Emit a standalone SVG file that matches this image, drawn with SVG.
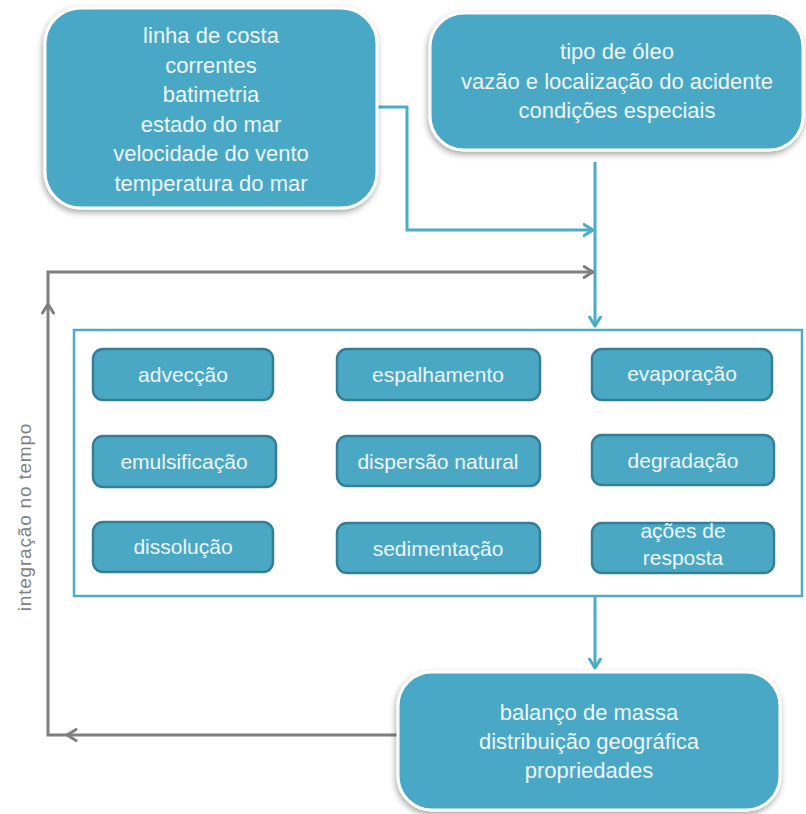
<svg xmlns="http://www.w3.org/2000/svg" width="806" height="814" viewBox="0 0 806 814">
<defs>
<filter id="sh" x="-10%" y="-10%" width="120%" height="125%">
<feDropShadow dx="-1" dy="3" stdDeviation="3" flood-color="#000" flood-opacity="0.35"/>
</filter>
<marker id="ab" viewBox="0 0 12 14" refX="10.5" refY="7" markerWidth="12" markerHeight="14" orient="auto" markerUnits="userSpaceOnUse">
<path d="M1.5,1.5 L10.5,7 L1.5,12.5" fill="none" stroke="#4bacc6" stroke-width="3" stroke-linecap="round" stroke-linejoin="round"/>
</marker>
<marker id="ag" viewBox="0 0 12 14" refX="10.5" refY="7" markerWidth="12" markerHeight="14" orient="auto" markerUnits="userSpaceOnUse">
<path d="M1.5,1.5 L10.5,7 L1.5,12.5" fill="none" stroke="#7f7f7f" stroke-width="3" stroke-linecap="round" stroke-linejoin="round"/>
</marker>
</defs>
<style>
.big{fill:#4aa8c5;stroke:#ffffff;stroke-width:3;filter:url(#sh)}
.sm{fill:#4aa8c5;stroke:#357f96;stroke-width:2.5}
.tb{font-family:"Liberation Sans",Arial,sans-serif;font-size:22px;fill:#eef7fa;text-anchor:middle}
.ts{font-family:"Liberation Sans",Arial,sans-serif;font-size:21px;fill:#eef7fa;text-anchor:middle}
.cb{fill:none;stroke:#4bacc6;stroke-width:3}
.cg{fill:none;stroke:#7f7f7f;stroke-width:3}
</style>
<rect width="806" height="814" fill="#ffffff"/>

<g id="container">
<rect x="74" y="330" width="728" height="266" fill="#ffffff" stroke="#4bacc6" stroke-width="2.5"/>
</g>

<g id="connectors">
<path class="cb" d="M378,107 H407 V230 H593" marker-end="url(#ab)"/>
<path class="cb" d="M595,162 V326" marker-end="url(#ab)"/>
<path class="cg" d="M398,735 H67" marker-end="url(#ag)"/>
<path class="cg" d="M67,735 H48 V304" marker-end="url(#ag)"/>
<path class="cg" d="M48,304 V272 H593" marker-end="url(#ag)"/>
<path class="cb" d="M595,597 V668" marker-end="url(#ab)"/>
</g>

<g id="label-integracao">
<text transform="translate(31,517) rotate(-90)" font-family="'Liberation Sans',Arial,sans-serif" font-size="19" fill="#7f7f7f" text-anchor="middle" letter-spacing="0.8">integração no tempo</text>
</g>

<g id="input-ambiente">
<rect class="big" x="45" y="8" width="332" height="200" rx="36"/>
<text class="tb" x="211" y="43">linha de costa</text>
<text class="tb" x="211" y="72.5">correntes</text>
<text class="tb" x="211" y="102">batimetria</text>
<text class="tb" x="211" y="131.5">estado do mar</text>
<text class="tb" x="211" y="161">velocidade do vento</text>
<text class="tb" x="211" y="190.5">temperatura do mar</text>
</g>

<g id="input-oleo">
<rect class="big" x="430" y="13" width="373" height="137" rx="34"/>
<text class="tb" x="617" y="59">tipo de óleo</text>
<text class="tb" x="617" y="89">vazão e localização do acidente</text>
<text class="tb" x="617" y="118">condições especiais</text>
</g>

<g id="advecção">
<rect class="sm" x="93" y="349" width="180" height="51" rx="10"/>
<text class="ts" x="183" y="382">advecção</text>
</g>
<g id="espalhamento">
<rect class="sm" x="337" y="349" width="203" height="51" rx="10"/>
<text class="ts" x="438" y="382">espalhamento</text>
</g>
<g id="evaporacao">
<rect class="sm" x="592" y="349" width="180" height="51" rx="10"/>
<text class="ts" x="682" y="381">evaporação</text>
</g>
<g id="emulsificacao">
<rect class="sm" x="93" y="436" width="183" height="51" rx="10"/>
<text class="ts" x="184" y="469">emulsificação</text>
</g>
<g id="dispersao">
<rect class="sm" x="337" y="436" width="203" height="50" rx="10"/>
<text class="ts" x="438" y="469">dispersão natural</text>
</g>
<g id="degradacao">
<rect class="sm" x="592" y="435" width="182" height="50" rx="10"/>
<text class="ts" x="683" y="468">degradação</text>
</g>
<g id="dissolucao">
<rect class="sm" x="93" y="522" width="180" height="50" rx="10"/>
<text class="ts" x="183" y="554">dissolução</text>
</g>
<g id="sedimentacao">
<rect class="sm" x="337" y="523" width="203" height="50" rx="10"/>
<text class="ts" x="438" y="556">sedimentação</text>
</g>
<g id="acoes">
<rect class="sm" x="592" y="523" width="182" height="50" rx="10"/>
<text class="ts" x="683" y="538">ações de</text>
<text class="ts" x="683" y="565">resposta</text>
</g>

<g id="output">
<rect class="big" x="398" y="672" width="382" height="138" rx="34"/>
<text class="tb" x="589" y="720">balanço de massa</text>
<text class="tb" x="589" y="749">distribuição geográfica</text>
<text class="tb" x="589" y="778">propriedades</text>
</g>
</svg>
